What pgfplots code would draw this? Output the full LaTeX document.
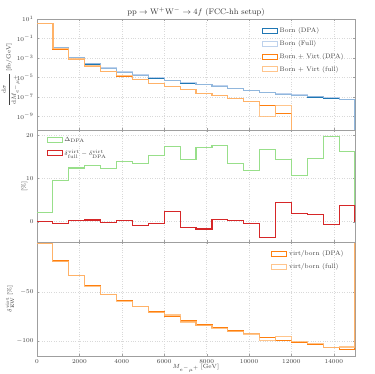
\documentclass[border=0pt]{standalone}
\usepackage{pgfplots}
\pgfplotsset{compat=1.18}
\definecolor{cBlue}{RGB}{31,119,180}
\definecolor{cLBlue}{RGB}{174,199,232}
\definecolor{cOrange}{RGB}{255,127,14}
\definecolor{cLOrange}{RGB}{255,187,120}
\definecolor{cGreen}{RGB}{152,223,138}
\definecolor{cRed}{RGB}{214,39,40}
\pgfplotsset{
 panel/.style={
  scale only axis, width=318pt, xmin=0, xmax=15000,
  axis line style={gray!75, line width=0.9pt},
  grid=major, grid style={dotted, gray!30},
  tick style={gray!75}, major tick length=2pt,
  xtick={0,2000,...,14000},
  scaled x ticks=false,
  x tick label style={/pgf/number format/1000 sep={}},
  tick label style={font=\fontsize{6}{7}\selectfont, text=black!75},
  label style={font=\fontsize{6.5}{7.5}\selectfont, text=black!75},
  legend style={draw=none, fill=none, font=\fontsize{6.5}{8}\selectfont, text=black!75,
    row sep=2.5pt},
  legend cell align=left,
  every axis plot/.append style={const plot, line width=1.2pt, mark=none},
 },
 boxleg/.style={legend image code/.code={\draw[line width=0.9pt, fill=white] (0pt,-2.5pt) rectangle (15pt,2.5pt);}},
}
\begin{document}
\begin{tikzpicture}
\path[use as bounding box] (-37pt,-18pt) rectangle (337pt,356pt);
% ---------- Panel 1 ----------
\begin{axis}[panel, at={(0,226pt)}, anchor=south west, height=111pt,
  ymode=log, ymin=4e-11, ymax=10,
  ytick={1e1,1e-1,1e-3,1e-5,1e-7,1e-9}, minor y tick num=0,
  yminorticks=false, yminorgrids=false,
  xticklabels={},
  ylabel={$\displaystyle\frac{\mathrm{d}\sigma}{\mathrm{d}M_{e^-\mu^+}}\,[\mathrm{fb}/\mathrm{GeV}]$},
  ylabel style={at={(axis description cs:-0.083,0.5)}, anchor=center},
  title={$\mathrm{pp}\to\mathrm{W}^{+}\mathrm{W}^{-}\to 4f$ (FCC-hh setup)},
  title style={font=\fontsize{8}{9}\selectfont, text=black!80, yshift=-7pt},
  legend style={at={(0.98,0.96)}, anchor=north east}]
\addplot[cBlue, boxleg] coordinates {
(0,3.2) (750,1.1e-2) (1500,1.1e-3) (2250,2.4e-4) (3000,8.5e-5) (3750,3.2e-5)
(4500,1.6e-5) (5250,8.3e-6) (6000,4.4e-6) (6750,2.5e-6) (7500,1.8e-6) (8250,1.2e-6)
(9000,6.9e-7) (9750,4.4e-7) (10500,2.7e-7) (11250,1.8e-7) (12000,1.4e-7) (12750,1.0e-7)
(13500,7.4e-8) (14250,5.0e-8) (15000,1e-13)};
\addlegendentry{Born (DPA)}
\addplot[cLBlue, opacity=0.8, boxleg] coordinates {
(0,3.3) (750,1.2e-2) (1500,1.2e-3) (2250,2.7e-4) (3000,9.5e-5) (3750,3.6e-5)
(4500,1.8e-5) (5250,9.3e-6) (6000,4.9e-6) (6750,2.8e-6) (7500,2.0e-6) (8250,1.3e-6)
(9000,7.7e-7) (9750,4.9e-7) (10500,3.0e-7) (11250,2.0e-7) (12000,1.55e-7) (12750,1.1e-7)
(13500,8.2e-8) (14250,5.6e-8) (15000,1e-13)};
\addlegendentry{Born (Full)}
\addplot[cOrange, boxleg] coordinates {
(0,3.2) (750,8.0e-3) (1500,7.3e-4) (2250,1.4e-4) (3000,4.0e-5) (3750,1.35e-5)
(4500,6.0e-6) (5250,2.3e-6) (6000,1.1e-6) (6750,5.5e-7) (7500,2.1e-7) (8250,1.4e-7)
(9000,6.9e-8) (9750,3.1e-8) (10500,1.2e-8) (11250,1.9e-9) (12000,1e-13) (12750,1e-13)};
\addlegendentry{Born + Virt (DPA)}
\addplot[cLOrange, opacity=0.85, boxleg] coordinates {
(0,3.3) (750,8.6e-3) (1500,7.8e-4) (2250,1.5e-4) (3000,4.3e-5) (3750,1.45e-5)
(4500,6.4e-6) (5250,2.5e-6) (6000,1.2e-6) (6750,5.9e-7) (7500,2.3e-7) (8250,1.5e-7)
(9000,7.4e-8) (9750,3.3e-8) (10500,9.0e-10) (11250,1.4e-8) (12000,1e-13) (12750,1e-13)};
\addlegendentry{Born + Virt (full)}
\end{axis}
% ---------- Panel 2 ----------
\begin{axis}[panel, at={(0,114pt)}, anchor=south west, height=112pt,
  ymin=-4.7, ymax=21.2, ytick={0,10,20},
  xticklabels={},
  ylabel={$[\%]$},
  ylabel style={at={(axis description cs:-0.04,0.5)}, anchor=center},
  legend style={at={(0.02,0.97)}, anchor=north west}]
\addplot[cGreen, boxleg] coordinates {
(0,2.15) (750,9.6) (1500,12.4) (2250,13.0) (3000,12.3) (3750,13.85) (4500,13.5)
(5250,15.3) (6000,17.3) (6750,14.4) (7500,17.1) (8250,17.6) (9000,13.5) (9750,11.9)
(10500,16.6) (11250,14.3) (12000,10.7) (12750,14.6) (13500,19.7) (14250,16.2) (15000,0)};
\addlegendentry{$\Delta_{\mathrm{DPA}}$}
\addplot[cRed, boxleg] coordinates {
(0,0.0) (750,-0.4) (1500,0.3) (2250,0.4) (3000,-0.1) (3750,0.2) (4500,-0.8)
(5250,-0.4) (6000,2.4) (6750,-1.4) (7500,-1.7) (8250,0.5) (9000,0.2) (9750,-0.4)
(10500,-3.6) (11250,4.5) (12000,1.9) (12750,1.6) (13500,-0.6) (14250,3.7) (15000,0)};
\addlegendentry{$\delta^{\mathrm{virt}}_{\mathrm{full}}-\delta^{\mathrm{virt}}_{\mathrm{DPA}}$}
\end{axis}
% ---------- Panel 3 ----------
\begin{axis}[panel, at={(0,0pt)}, anchor=south west, height=114pt,
  ymin=-115.4, ymax=0.8, ytick={-100,-50},
  xlabel={$M_{e^-\mu^+}\,[\mathrm{GeV}]$},
  xlabel style={at={(axis description cs:0.5,-0.105)}, anchor=center},
  ylabel={$\delta^{\mathrm{virt}}_{\mathrm{EW}}\,[\%]$},
  ylabel style={at={(axis description cs:-0.085,0.5)}, anchor=center},
  legend style={at={(0.98,0.96)}, anchor=north east}]
\addplot[cOrange, boxleg] coordinates {
(0,-0.7) (750,-18.5) (1500,-33.2) (2250,-43.8) (3000,-52.4) (3750,-59.2) (4500,-64.7)
(5250,-70.5) (6000,-75.3) (6750,-79.8) (7500,-83.9) (8250,-86.6) (9000,-90.0) (9750,-92.8)
(10500,-96.2) (11250,-99.3) (12000,-101.4) (12750,-103.8) (13500,-106.5) (14250,-108.9) (15000,0)};
\addlegendentry{virt/born (DPA)}
\addplot[cLOrange, opacity=0.85, boxleg] coordinates {
(0,-0.9) (750,-18.8) (1500,-33.6) (2250,-44.2) (3000,-52.8) (3750,-59.6) (4500,-65.3)
(5250,-70.8) (6000,-73.6) (6750,-80.8) (7500,-84.6) (8250,-87.0) (9000,-90.3) (9750,-93.0)
(10500,-99.3) (11250,-95.2) (12000,-100.7) (12750,-103.0) (13500,-106.7) (14250,-106.2) (15000,0)};
\addlegendentry{virt/born (full)}
\end{axis}
\end{tikzpicture}
\end{document}
